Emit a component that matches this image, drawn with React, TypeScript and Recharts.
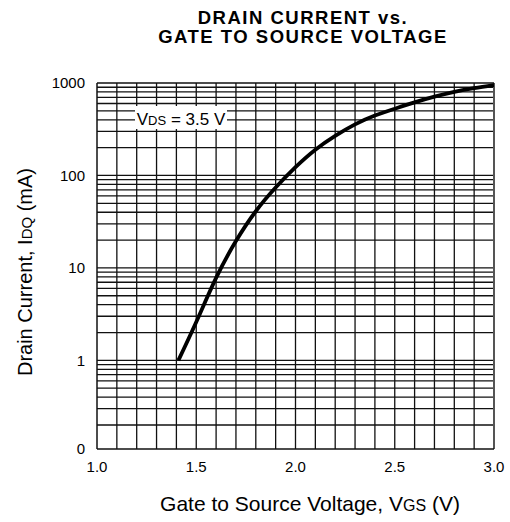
import React from 'react';
import { LineChart, Line, XAxis, YAxis, ReferenceLine } from 'recharts';

// Curve: Gate-to-source voltage (V) vs drain current (mA)
const vgs = [1.41, 1.5, 1.6, 1.7, 1.8, 1.9, 2.0, 2.1, 2.2, 2.3, 2.4, 2.5, 2.6, 2.7, 2.8, 2.9, 3.0];
const idq = [1.0, 2.6, 7.8, 19.5, 41, 74, 123, 190, 268, 357, 445, 527, 617, 711, 803, 881, 950];

const xTicks = [1.0, 1.5, 2.0, 2.5, 3.0];
const xTickLabels = ['1.0', '1.5', '2.0', '2.5', '3.0'];
const xMin = 1.0;
const xMax = 3.0;
const xGrid = [1.1, 1.2, 1.3, 1.4, 1.5, 1.6, 1.7, 1.8, 1.9, 2.0, 2.1, 2.2, 2.3, 2.4, 2.5, 2.6, 2.7, 2.8, 2.9];

const yMin = 0.11;
const yMax = 1000;
const yTicks = [0.11, 1, 10, 100, 1000];
const yTickLabels = ['0', '1', '10', '100', '1000'];
const decades = [0.1, 1, 10, 100];
const mantissas = [1, 2, 3, 4, 5, 6, 7, 8, 9];

const data = vgs.map((x, i) => ({ x, y: idq[i] }));
const yGrid: number[] = [];
decades.forEach((d) =>
  mantissas.forEach((m) => {
    const v = +(d * m).toPrecision(3);
    if (v > yMin && v < yMax) yGrid.push(v);
  })
);

const FONT = '"Liberation Sans", Arial, Helvetica, sans-serif';
const GRID = '#111';

export default function App() {
  return (
    <div style={{ position: 'absolute', left: 0, top: 0, width: 510, height: 522, background: '#fff' }}>
      <LineChart
        width={510}
        height={522}
        data={data}
        margin={{ top: 83, right: 16, left: 0, bottom: 0 }}
      >
        <XAxis
          type="number"
          dataKey="x"
          domain={[xMin, xMax]}
          ticks={xTicks}
          tickFormatter={(v: number) => xTickLabels[xTicks.indexOf(v)] ?? String(v)}
          height={73}
          axisLine={false}
          tickLine={false}
          tickSize={6}
          tickMargin={6}
          tick={{ fill: '#000', fontSize: 15, fontFamily: FONT }}
          allowDataOverflow
        />
        <YAxis
          type="number"
          dataKey="y"
          scale="log"
          domain={[yMin, yMax]}
          ticks={yTicks}
          tickFormatter={(v: number) => yTickLabels[yTicks.indexOf(v)] ?? String(v)}
          width={97}
          axisLine={false}
          tickLine={false}
          tickSize={6}
          tickMargin={6}
          tick={{ fill: '#000', fontSize: 15, fontFamily: FONT }}
          allowDataOverflow
        />
        {xGrid.map((v) => (
          <ReferenceLine key={'x' + v} x={v} stroke={GRID} strokeWidth={1.3} />
        ))}
        {yGrid.map((v) => (
          <ReferenceLine key={'y' + v} y={v} stroke={GRID} strokeWidth={1.3} />
        ))}
        <ReferenceLine x={xMin} stroke={GRID} strokeWidth={1.5} />
        <ReferenceLine x={xMax} stroke="#555" strokeWidth={2} />
        <ReferenceLine y={yMin} stroke={GRID} strokeWidth={1.5} />
        <ReferenceLine y={yMax} stroke={GRID} strokeWidth={1.5} />
        <Line
          type="natural"
          dataKey="y"
          stroke="#000"
          strokeWidth={3.8}
          dot={false}
          isAnimationActive={false}
        />
      </LineChart>
      <svg
        width={510}
        height={522}
        style={{ position: 'absolute', left: 0, top: 0, pointerEvents: 'none' }}
        fontFamily={FONT}
      >
        <text x={303} y={24} textAnchor="middle" fontSize={18.5} fontWeight="bold" letterSpacing={1.5} fill="#000">
          DRAIN CURRENT vs.
        </text>
        <text x={303} y={43} textAnchor="middle" fontSize={18.5} fontWeight="bold" letterSpacing={1.5} fill="#000">
          GATE TO SOURCE VOLTAGE
        </text>
        <rect x={135} y={106} width={92} height={23} fill="#fff" />
        <text x={181} y={125} textAnchor="middle" fontSize={17} fill="#000">
          V<tspan fontSize={13}>DS</tspan> = 3.5 V
        </text>
        <text transform="translate(32,272) rotate(-90)" textAnchor="middle" fontSize={20} fill="#000">
          Drain Current, I<tspan fontSize={15}>DQ</tspan> (mA)
        </text>
        <text x={310} y={511} textAnchor="middle" fontSize={21} fill="#000">
          Gate to Source Voltage, V<tspan fontSize={16}>GS</tspan> (V)
        </text>
      </svg>
    </div>
  );
}
